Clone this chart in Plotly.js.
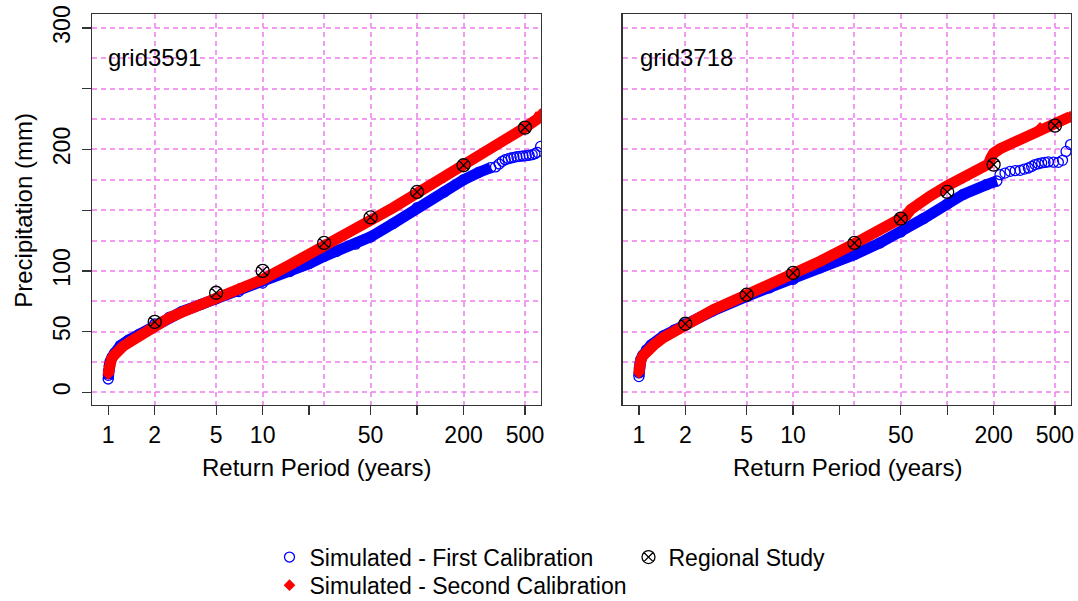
<!DOCTYPE html>
<html><head><meta charset="utf-8">
<script src="https://cdn.plot.ly/plotly-3.0.1.min.js"></script>
<style>html,body{margin:0;padding:0;background:#fff;}#chart{width:1078px;height:601px;}</style>
</head><body><div id="chart"></div>
<script>
// ---- axis ticks / grid values ----
const T_ticks = [1, 2, 5, 10, 20, 50, 100, 200, 500];
const T_tick_text = ['1', '2', '5', '10', '', '50', '', '200', '500'];
const T_grid = [2, 5, 10, 25, 50, 100, 200, 500];
const P_grid = [0, 25, 50, 75, 100, 125, 150, 175, 200, 225, 250, 275, 300];
const P_grid_text = ['0', '', '50', '', '100', '', '', '', '200', '', '', '', '300'];
const P_tick_marks = [0, 50, 100, 150, 200, 250, 300];

// ---- labels ----
const panelNames = ['grid3591', 'grid3718'];
const seriesNames = ['Simulated - First Calibration', 'Simulated - Second Calibration', 'Regional Study'];

// ---- regional study ----
const regional_T = [2, 5, 10, 25, 50, 100, 200, 500];
const left_regional_P = [58, 82, 100, 123, 144, 165, 187, 218];
const right_regional_P = [56.5, 80.4, 98.3, 123, 143, 165, 187.5, 219.6];

// ---- grid3591 : first calibration (blue) ----
const left_first_T = [1.0, 1.002, 1.006, 1.015, 1.03, 1.06, 1.1, 1.2, 1.35, 1.6, 2, 2.5, 3, 4, 5, 7, 10, 15, 20, 25, 30, 40, 50, 70, 100, 150, 200, 250, 300];
const left_first_P = [11, 14, 18, 22, 25.5, 29, 32.5, 38.5, 43, 48, 56.3, 62, 66.5, 72.5, 77, 83, 90, 99.5, 106, 112, 116, 122, 128, 139, 152, 165, 175, 181, 185];
const left_first_tail_T = [322, 340, 356, 372, 390, 407, 424, 443, 463, 485, 509, 532, 557, 580, 600, 631];
const left_first_tail_P = [185.6, 188, 190.2, 191.5, 192.4, 193, 193.5, 194, 194.3, 194.6, 194.9, 195.2, 195.7, 196.5, 197.6, 202.5];

// ---- grid3591 : second calibration (red) ----
const left_second_T = [1.0, 1.003, 1.01, 1.025, 1.05, 1.09, 1.15, 1.25, 1.4, 1.6, 1.8, 2, 2.5, 3, 4, 5, 7, 10, 15, 20, 25, 30, 40, 50, 70, 100, 150, 200, 300, 400, 500, 600, 630];
const left_second_P = [15, 18, 21, 24.5, 27.5, 30.5, 34, 38, 42, 46.5, 51, 55.5, 61.5, 66, 72.5, 78, 85.5, 93, 105, 113.5, 120, 126, 135, 141.5, 152, 164, 177, 187, 201, 210.5, 218, 225, 229];

// ---- grid3718 : first calibration (blue) ----
const right_first_T = [1.0, 1.002, 1.006, 1.015, 1.03, 1.06, 1.12, 1.2, 1.44, 1.7, 2, 3, 5, 7, 10, 15, 25, 36.6, 50, 70, 100, 127, 180, 210];
const right_first_P = [13, 16, 20, 24, 27, 30.5, 35, 39, 46.5, 51.5, 56.3, 67, 79, 86, 93, 102.5, 113.4, 123, 132, 143, 155, 163, 171, 174];
const right_first_tail_T = [220, 237, 256, 276, 297, 316, 336, 353, 371, 390, 410, 431, 453, 490, 526, 560, 590, 631];
const right_first_tail_P = [179.2, 180.5, 182, 182.5, 182.8, 183.8, 184.7, 186, 187.5, 188.2, 188.9, 189.3, 189.7, 189.5, 189.4, 191, 198.4, 204];

// ---- grid3718 : second calibration (red) ----
const right_second_T = [1.0, 1.003, 1.01, 1.03, 1.06, 1.12, 1.25, 1.44, 1.7, 2, 3.04, 5, 7, 10, 15, 25, 36.6, 50, 54, 58, 64, 77, 100, 127, 185, 192, 200, 220, 312, 400, 500, 627];
const right_second_P = [16, 19, 22.5, 26.5, 30, 33.8, 39, 45, 50.5, 55.7, 68, 80.4, 88.5, 97.7, 108, 122.4, 134, 142.2, 145.5, 150.5, 155, 161.4, 170, 176.5, 188, 193, 197, 200.5, 209.4, 217.7, 221.8, 227];

// ---- styling ----
const FONT = 'Liberation Sans, Arial, sans-serif';
const BLUE = '#0000FF';
const RED = '#FF0000';
const GRID = 'rgba(238,130,238,0.8)';
const GRID_DASH = '5px,4px';
const GRID_W = 2;
const AXC = '#333333';
const Y_RANGE = [-10.4, 311.5];

function panelTraces(xa, ya, fT, fP, ftT, ftP, sT, sP, rP, first) {
  return [
    {x: fT, y: fP, xaxis: xa, yaxis: ya, type: 'scatter', mode: 'lines',
     line: {color: BLUE, width: 11}, showlegend: false, hoverinfo: 'skip'},
    {x: fT.concat(ftT), y: fP.concat(ftP), xaxis: xa, yaxis: ya, type: 'scatter', mode: 'markers',
     name: seriesNames[0], legend: 'legend', legendrank: 1, showlegend: first,
     marker: {symbol: 'circle-open', size: 10, color: BLUE, line: {width: 1.3, color: BLUE}}},
    {x: sT, y: sP, xaxis: xa, yaxis: ya, type: 'scatter', mode: 'lines',
     line: {color: RED, width: 11}, showlegend: false, hoverinfo: 'skip'},
    {x: sT, y: sP, xaxis: xa, yaxis: ya, type: 'scatter', mode: 'markers',
     name: seriesNames[1], legend: 'legend2', showlegend: first,
     marker: {symbol: 'diamond', size: 9, color: RED}},
    {x: regional_T, y: rP, xaxis: xa, yaxis: ya, type: 'scatter', mode: 'markers',
     name: seriesNames[2], legend: 'legend', legendrank: 2, showlegend: first,
     marker: {symbol: 'circle-x-open', size: 13, color: '#000', line: {width: 1.3, color: '#000'}}}
  ];
}

const data = [].concat(
  panelTraces('x', 'y', left_first_T, left_first_P, left_first_tail_T, left_first_tail_P, left_second_T, left_second_P, left_regional_P, true),
  panelTraces('x2', 'y2', right_first_T, right_first_P, right_first_tail_T, right_first_tail_P, right_second_T, right_second_P, right_regional_P, false),
  // invisible carrier so the tick-mark overlay axis is drawn
  [{x: regional_T, y: left_regional_P, xaxis: 'x', yaxis: 'y3', type: 'scatter', mode: 'markers',
    marker: {opacity: 0}, showlegend: false, hoverinfo: 'skip'}]
);

function xAxis(domain, anchor) {
  return {
    type: 'log', domain: domain, anchor: anchor, range: [-0.105, 2.803],
    tickmode: 'array', tickvals: T_ticks, ticktext: T_tick_text,
    ticks: 'outside', ticklen: 9, tickwidth: 1.3, tickcolor: AXC,
    showline: true, linecolor: AXC, linewidth: 1.3, mirror: true,
    showgrid: false, zeroline: false,
    tickfont: {family: FONT, size: 23, color: '#000'},
    minor: {tickmode: 'array', tickvals: T_grid, ticks: '', showgrid: true,
            gridcolor: GRID, griddash: GRID_DASH, gridwidth: GRID_W}
  };
}
function yAxis(anchor, labels) {
  return {
    domain: [0, 1], anchor: anchor, range: Y_RANGE,
    tickmode: 'array', tickvals: P_grid, ticktext: P_grid_text,
    ticks: '', showticklabels: labels, tickangle: -90, ticklabelstandoff: 12,
    showline: true, linecolor: AXC, linewidth: 1.3, mirror: true,
    showgrid: true, gridcolor: GRID, griddash: GRID_DASH, gridwidth: GRID_W, zeroline: false,
    tickfont: {family: FONT, size: 23, color: '#000'}
  };
}

const legendFont = {family: FONT, size: 23, color: '#000'};
const layout = {
  width: 1078, height: 601,
  margin: {l: 91.5, r: 7.3, t: 14, b: 195.7, autoexpand: false},
  paper_bgcolor: '#fff', plot_bgcolor: '#fff',
  font: {family: FONT, color: '#000'},
  xaxis: xAxis([0, 0.4587], 'y'),
  xaxis2: xAxis([0.5421, 1], 'y2'),
  yaxis: yAxis('x', true),
  yaxis2: yAxis('x2', false),
  yaxis3: {overlaying: 'y', anchor: 'x', side: 'left', range: Y_RANGE,
           tickmode: 'array', tickvals: P_tick_marks, ticks: 'outside', ticklen: 9,
           tickwidth: 1.3, tickcolor: AXC, showticklabels: false, showgrid: false,
           showline: false, zeroline: false},
  showlegend: true,
  legend: {orientation: 'h', x: 0.1813, xanchor: 'left', y: -0.334, yanchor: 'top',
           entrywidth: 314, entrywidthmode: 'pixels', traceorder: 'normal',
           font: legendFont, bgcolor: 'rgba(0,0,0,0)'},
  legend2: {orientation: 'h', x: 0.1813, xanchor: 'left', y: -0.406, yanchor: 'top',
           entrywidth: 314, entrywidthmode: 'pixels', traceorder: 'normal',
           font: legendFont, bgcolor: 'rgba(0,0,0,0)'},
  annotations: [
    {text: panelNames[0], xref: 'x domain', yref: 'y domain', x: 0.032, y: 0.888,
     xanchor: 'left', yanchor: 'middle', showarrow: false, font: {family: FONT, size: 24, color: '#000'}},
    {text: panelNames[1], xref: 'x2 domain', yref: 'y2 domain', x: 0.035, y: 0.888,
     xanchor: 'left', yanchor: 'middle', showarrow: false, font: {family: FONT, size: 24, color: '#000'}},
    {text: 'Return Period (years)', xref: 'paper', yref: 'paper', x: 0.229, y: -0.160,
     xanchor: 'center', yanchor: 'middle', showarrow: false, font: {family: FONT, size: 24, color: '#000'}},
    {text: 'Return Period (years)', xref: 'paper', yref: 'paper', x: 0.7718, y: -0.160,
     xanchor: 'center', yanchor: 'middle', showarrow: false, font: {family: FONT, size: 24, color: '#000'}},
    {text: 'Precipitation (mm)', xref: 'paper', yref: 'paper', x: -0.070, y: 0.498, textangle: -90,
     xanchor: 'center', yanchor: 'middle', showarrow: false, font: {family: FONT, size: 24, color: '#000'}}
  ]
};

Plotly.newPlot('chart', data, layout, {staticPlot: true, displayModeBar: false});
</script></body></html>
